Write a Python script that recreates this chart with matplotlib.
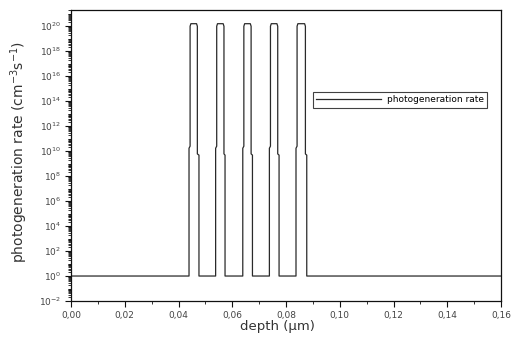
import numpy as np
import matplotlib
matplotlib.use('Agg')
import matplotlib.pyplot as plt
from matplotlib.ticker import LogLocator, FixedLocator, MultipleLocator, NullFormatter

plt.rcParams['font.family'] = ['DejaVu Sans']

# pulse edges (depth in um)
rise_low = [0.0439, 0.0538, 0.0639, 0.0738, 0.0837]
rise_high = [0.0443, 0.0542, 0.0643, 0.0742, 0.0841]
fall_high = [0.0470, 0.0569, 0.0670, 0.0769, 0.0872]
fall_low = [0.0476, 0.0573, 0.0675, 0.0774, 0.0877]
base_rate = 1.0
rise_step = [1.7e10, 2.5e10]
fall_step = [6e9, 4.8e9]
edge_rate = 1.0e20
peak_rate = 1.6e20
x_start, x_end = 0.0, 0.16
xtick_vals = [0.00, 0.02, 0.04, 0.06, 0.08, 0.10, 0.12, 0.14, 0.16]

depth = [x_start]
rate = [base_rate]
for a, a2, b2, b in zip(rise_low, rise_high, fall_high, fall_low):
    depth += [a, a, a2, a2, a2 + 0.0003, b2 - 0.0003, b2, b2, b, b]
    rate += [base_rate, rise_step[0], rise_step[1], edge_rate, peak_rate,
             peak_rate, edge_rate, fall_step[0], fall_step[1], base_rate]
depth.append(x_end)
rate.append(base_rate)

fig = plt.figure(figsize=(5.12, 3.4), dpi=100)
ax = fig.add_axes([0.1387, 0.1147, 0.84, 0.8559])
ax.plot(depth, rate, color='#2a2a2a', lw=0.9, label='photogeneration rate')

ax.set_yscale('log')
ax.set_xlim(0, 0.16)
ax.set_ylim(1e-2, 2e21)
ax.yaxis.set_major_locator(FixedLocator([10.0**k for k in range(-2, 21, 2)]))
ax.yaxis.set_minor_locator(LogLocator(base=10, subs=np.arange(1, 10), numticks=100))
ax.yaxis.set_minor_formatter(NullFormatter())
ax.xaxis.set_minor_locator(MultipleLocator(0.01))
ax.set_xticks(xtick_vals)
ax.set_xticklabels([('%.2f' % v).replace('.', ',') for v in xtick_vals])

ax.tick_params(which='major', direction='out', length=4, width=0.8, labelsize=6.5,
               colors='#111111', labelcolor='#444444', pad=3)
ax.tick_params(which='minor', direction='out', length=2.2, width=0.6, colors='#111111')
for s in ax.spines.values():
    s.set_linewidth(0.9)
    s.set_color('#111111')

ax.set_xlabel('depth (\u00b5m)', fontsize=9.5, color='#333333')
ax.set_ylabel('photogeneration rate (cm$^{-3}$s$^{-1}$)', fontsize=10, color='#333333')
ax.xaxis.set_label_coords(0.48, -0.066)
ax.yaxis.set_label_coords(-0.095, 0.512)

leg = ax.legend(loc='center', bbox_to_anchor=(0.765, 0.691), fontsize=6.5, frameon=True,
                fancybox=False, handlelength=7.2, borderpad=0.4, handletextpad=0.6,
                borderaxespad=0)
leg.get_frame().set_edgecolor('#111111')
leg.get_frame().set_linewidth(0.8)

fig.savefig('out.png', dpi=100)
